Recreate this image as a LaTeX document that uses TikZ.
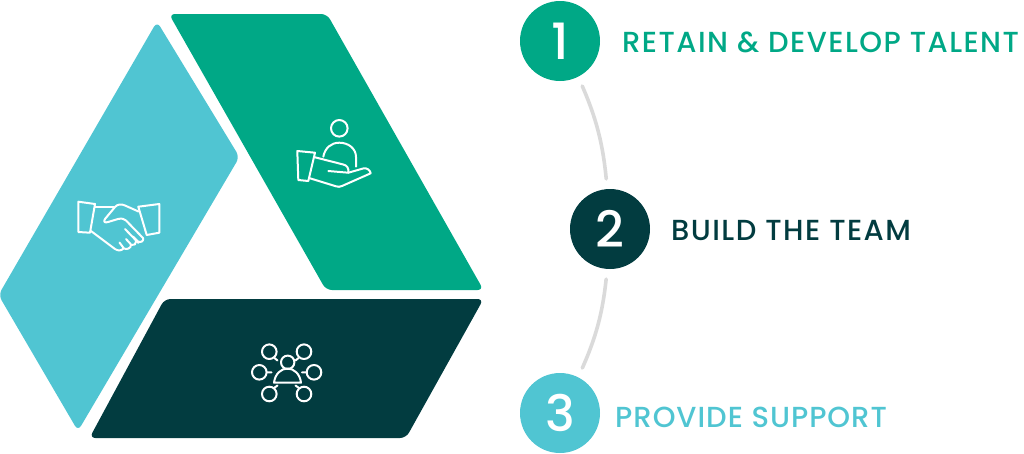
\documentclass[tikz,border=0pt]{standalone}
\usepackage{fontspec}
\setmainfont[LetterSpace=5]{Poppins Medium}
\newfontfamily\numfont{Poppins Medium}
\newfontfamily\tightfont[LetterSpace=3.4]{Poppins Medium}
\definecolor{cgreen}{HTML}{00A886}
\definecolor{cteal}{HTML}{50C5D2}
\definecolor{cdark}{HTML}{023C40}
\definecolor{cgray}{HTML}{DADADA}
\tikzset{
  numdisc/.style={circle,minimum size=80pt,inner sep=0pt,text=white,font=\fontsize{50}{50}\selectfont\numfont},
  label/.style={anchor=base west,inner sep=0pt,font=\fontsize{29}{29}\selectfont},
  link/.style={cgray,line width=3.6pt,line cap=round,shorten >=10pt,shorten <=10pt},
  panel/.style={rounded corners=6pt},
  icon/.style={white,line width=2pt,line join=round,line cap=round}
}
\begin{document}
\begin{tikzpicture}[x=1pt,y=-1pt]
\useasboundingbox (0,0) rectangle (1024,453);
% panels
\fill[panel,cgreen] (169,14) -- (327,14) -- (483.5,290) -- (326,290) -- cycle;
\fill[panel,cteal] (157,21.5) -- (239.5,157) -- (78,431) -- (-1.5,295) -- cycle;
\fill[panel,cdark] (164.5,299) -- (483.5,299) -- (406,438) -- (89.5,438) -- cycle;
% hand icon
\draw[icon] (339.3,128.3) circle (8.3);
\draw[icon] (323.3,156.7) .. controls (325,148) and (331,142.7) .. (339.3,142.7) .. controls (349,142.7) and (356,149) .. (356,157) -- (356,166.7);
\draw[icon] (297.3,151) -- (315,152.7) -- (308.3,181) -- (298.3,180) -- cycle;
\draw[icon] (315,157.3) -- (343.3,164.5) .. controls (347,165.5) and (349,168) .. (348.3,172.7) -- (328.3,171);
\draw[icon] (348.3,172.7) -- (363,168.5) .. controls (367,167.5) and (370,170) .. (370.7,173.3) -- (342,186) .. controls (340,187) and (338,187) .. (336,186.3) -- (310,178.3);
% handshake icon
\draw[icon] (78.3,201.7) -- (95,204) -- (90,232.7) -- (78.3,232) -- cycle;
\draw[icon] (159.3,204) -- (138.3,206.7) -- (146.7,235) -- (159.3,232.7) -- cycle;
\draw[icon] (95,207.3) -- (113.5,207.3);
\draw[icon] (138.5,211.5) -- (125,205.5) .. controls (121,203.5) and (117,204.5) .. (115,207) -- (105,219) .. controls (103,222) and (105,223) .. (108,222) -- (118,219) .. controls (122,218) and (124,219) .. (126,220.5) -- (143,238) .. controls (144,241) and (141,243) .. (138,241.5) -- (133,236.5);
\draw[icon] (136,241.5) .. controls (136.5,244) and (134,245.5) .. (131.5,245) -- (126,239);
\draw[icon] (131,245) .. controls (131,248) and (127,250) .. (124,248.5) -- (119.5,242.5);
\draw[icon] (123.5,248.5) .. controls (121,251) and (118,251) .. (115,249) -- (91,231);
\draw[icon] (125,229) -- (138.5,243);
% network icon
\draw[icon] (287.7,362.3) circle (6.7);
\draw[icon] (269.3,351.7) circle (7.3) (304,351.7) circle (7.3) (259.3,372.3) circle (7.3) (314,372.3) circle (7.3) (269.3,394) circle (7.3) (304,394) circle (7.3);
\draw[icon] (274,382.7) .. controls (275,374) and (281,368.5) .. (287.5,368.5) .. controls (294,368.5) and (300,374) .. (301,382.7) -- cycle;
\draw[icon] (274.5,358) -- (277.5,360.5) (298.5,358) -- (295.5,360.5) (267,372.3) -- (271.5,372.3) (306.5,372.3) -- (302,372.3) (274,388) -- (277.5,385.5) (299,388) -- (295.5,385.5);
% numbered discs
\node[numdisc,fill=cgreen] (n1) at (560,41) {1};
\node[numdisc,fill=cdark] (n2) at (610,229) {2};
\node[numdisc,fill=cteal] (n3) at (560,413) {3};
% links
\draw[link] (n1.-63) to[bend left=9] (n2.94);
\draw[link] (n2.-94) to[bend left=9] (n3.63);
% labels
\node[label,text=cgreen] (t1) at (622,52) {RETAIN \& DEVELOP TALENT};
\node[label,text=cdark] (t2) at (671,240) {BUILD THE TEAM};
\node[label,text=cteal] (t3) at (615,427) {\tightfont PROVIDE SUPPORT};
\end{tikzpicture}
\end{document}
